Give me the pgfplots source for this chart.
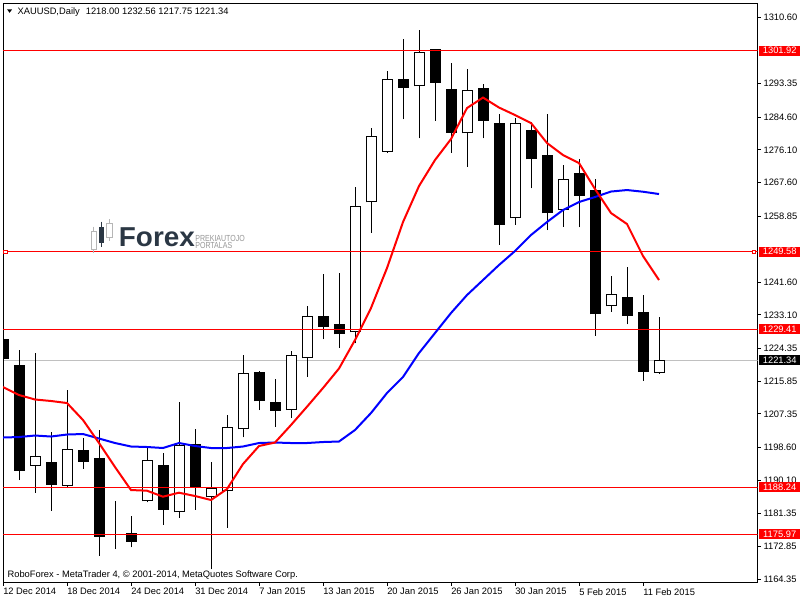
\documentclass[border=0pt]{standalone}
\usepackage{fontspec}
\setmainfont{Liberation Sans}
\usepackage{pgfplots}
\pgfplotsset{compat=1.18}
\usepackage{pgfplotstable}
\definecolor{mtred}{RGB}{255,0,0}
\definecolor{mtblue}{RGB}{0,0,255}
\definecolor{bidgray}{RGB}{192,192,192}
\definecolor{logodark}{RGB}{43,55,68}
\definecolor{logogray}{RGB}{150,150,150}
\newcommand\chartfont{\fontsize{7}{8.4}\selectfont}

% bearish (black) candles: index open high low close
\pgfplotstableread{
i o h l c
0 1226.58 1227.90 1220.90 1221.56
1 1219.89 1223.97 1190.13 1192.55
3 1194.55 1202.70 1182.06 1188.90
5 1197.68 1201.14 1193.07 1194.89
6 1195.59 1203.15 1170.42 1175.37
7 1175.95 1184.66 1172.16 1175.70
8 1176.07 1180.75 1172.60 1174.06
10 1193.77 1197.08 1178.49 1182.40
12 1199.42 1203.41 1182.32 1188.38
16 1218.17 1218.58 1208.35 1210.62
17 1210.36 1216.42 1204.01 1208.17
20 1232.64 1243.76 1226.76 1230.04
21 1230.48 1243.94 1224.57 1228.06
25 1294.27 1304.95 1284.04 1292.27
27 1302.08 1302.30 1283.67 1293.57
28 1291.67 1298.78 1275.34 1280.55
30 1291.93 1293.23 1279.09 1283.67
31 1282.82 1285.42 1251.39 1256.60
33 1280.99 1283.41 1266.07 1273.62
34 1274.48 1285.42 1255.22 1259.57
36 1269.80 1273.70 1255.92 1264.15
37 1265.37 1268.50 1227.70 1233.27
39 1237.69 1245.66 1230.66 1232.90
40 1233.61 1238.29 1215.98 1218.32
}\bear

% bullish (white) candles
\pgfplotstableread{
i o h l c
2 1193.85 1223.27 1186.82 1196.38
4 1188.64 1213.56 1188.38 1198.20
9 1184.58 1198.38 1184.30 1195.26
11 1181.72 1210.51 1180.31 1199.24
13 1185.62 1194.73 1166.88 1187.97
14 1187.19 1207.05 1177.71 1204.01
15 1203.33 1222.67 1201.24 1217.91
18 1208.35 1223.71 1206.35 1222.67
19 1221.81 1235.43 1217.02 1232.83
22 1228.58 1266.49 1225.72 1261.47
23 1262.43 1281.85 1254.51 1279.69
24 1275.66 1296.61 1275.40 1294.53
26 1292.63 1307.29 1279.09 1301.48
29 1280.39 1297.14 1271.70 1291.59
32 1258.26 1284.38 1256.60 1283.00
35 1260.42 1272.14 1256.08 1268.42
38 1235.35 1243.24 1233.95 1238.55
41 1218.00 1232.56 1217.75 1221.34
}\bull

% moving averages: red (fast), blue (slow)
\pgfplotstableread{
i r b
0 1214.34 1201.19
1 1212.26 1201.32
2 1211.09 1201.71
3 1210.70 1201.45
4 1210.17 1201.97
5 1205.75 1202.10
6 1199.76 1200.93
7 1193.51 1199.76
8 1187.52 1198.85
9 1187.34 1198.72
10 1185.78 1198.46
11 1186.82 1199.76
12 1185.96 1198.98
13 1184.92 1198.46
14 1187.78 1198.46
15 1194.29 1198.85
16 1198.98 1199.76
17 1199.89 1199.89
18 1204.45 1199.76
19 1209.21 1199.76
20 1214.08 1200.02
21 1219.16 1200.15
22 1226.58 1203.15
23 1234.91 1207.57
24 1245.32 1212.78
25 1257.30 1216.94
26 1266.67 1223.19
27 1273.44 1228.40
28 1278.91 1233.61
29 1286.98 1238.29
30 1289.71 1242.20
31 1287.11 1246.11
32 1285.16 1249.75
33 1283.08 1253.92
34 1277.87 1257.30
35 1274.74 1260.42
36 1272.66 1262.51
37 1265.89 1263.81
38 1259.64 1265.24
39 1256.78 1265.63
40 1248.45 1265.19
41 1242.20 1264.59
}\ma

\begin{document}
\begin{tikzpicture}
\useasboundingbox (0,0) rectangle (600pt,-450pt);
\begin{axis}[
  at={(2.25pt,-2.25pt)}, anchor=north west,
  scale only axis, width=565.875pt, height=434.625pt,
  xmin=0, xmax=47.156, ymin=1163.44, ymax=1314.33,
  axis line style={black, line width=0.75pt},
  xtick={0,4,...,40},
  xticklabels={12 Dec 2014,18 Dec 2014,24 Dec 2014,31 Dec 2014,7 Jan 2015,13 Jan 2015,20 Jan 2015,26 Jan 2015,30 Jan 2015,5 Feb 2015,11 Feb 2015},
  ytick={1164.35,1172.85,1181.35,1190.10,1198.60,1207.35,1215.85,1224.35,1233.10,1241.60,1258.85,1267.60,1276.10,1284.60,1293.35,1310.60},
  yticklabels={1164.35,1172.85,1181.35,1190.10,1198.60,1207.35,1215.85,1224.35,1233.10,1241.60,1258.85,1267.60,1276.10,1284.60,1293.35,1310.60},
  xtick pos=left, ytick pos=right, yticklabel pos=right,
  tick align=outside, major tick length=2.25pt,
  tick style={black, line width=0.75pt},
  ticklabel style={font=\chartfont, inner sep=0pt},
  xticklabel style={anchor=north west, yshift=-1.9pt},
  yticklabel style={anchor=west, xshift=2.1pt},
  candle/.style={draw=none, mark=none, error bars/.cd, y dir=plus, y explicit, error mark=none},
]
% bid line
\addplot[bidgray, line width=0.75pt] coordinates {(0,1221.34) (47.156,1221.34)};
% wicks
\addplot[candle, error bar style={draw=black, line width=0.75pt}]
  table[x=i, y=l, y error plus expr=\thisrow{h}-\thisrow{l}] {\bear};
\addplot[candle, error bar style={draw=black, line width=0.75pt}]
  table[x=i, y=l, y error plus expr=\thisrow{h}-\thisrow{l}] {\bull};
% bearish bodies
\addplot[candle, error bar style={draw=black, line width=8.25pt}]
  table[x=i, y=c, y error plus expr=\thisrow{o}-\thisrow{c}+0.15] {\bear};
% bullish bodies: outline then white fill
\addplot[candle, error bar style={draw=black, line width=8.25pt}]
  table[x=i, y=o, y error plus expr=\thisrow{c}-\thisrow{o}] {\bull};
\addplot[candle, error bar style={draw=white, line width=6.75pt}]
  table[x=i, y expr=\thisrow{o}+0.26, y error plus expr=\thisrow{c}-\thisrow{o}-0.52] {\bull};
% horizontal levels
\addplot[mtred, line width=0.75pt] coordinates {(0,1301.92) (47.156,1301.92)};
\addplot[mtred, line width=0.75pt] coordinates {(0,1249.58) (47.156,1249.58)};
\addplot[mtred, line width=0.75pt] coordinates {(0,1229.41) (47.156,1229.41)};
\addplot[mtred, line width=0.75pt] coordinates {(0,1188.24) (47.156,1188.24)};
\addplot[mtred, line width=0.75pt] coordinates {(0,1175.97) (47.156,1175.97)};
\addplot[mtred, only marks, mark=square*, mark size=1.3pt, mark options={fill=white, draw=mtred, line width=0.6pt}]
  coordinates {(0.15,1249.58) (46.94,1249.58)};
% moving averages
\addplot[mtblue, line width=1.5pt] table[x=i, y=b] {\ma};
\addplot[mtred, line width=1.5pt] table[x=i, y=r] {\ma};
\coordinate (b1) at (axis cs:47.156,1301.92);
\coordinate (b2) at (axis cs:47.156,1249.58);
\coordinate (b3) at (axis cs:47.156,1229.41);
\coordinate (b4) at (axis cs:47.156,1188.24);
\coordinate (b5) at (axis cs:47.156,1175.97);
\coordinate (b6) at (axis cs:47.156,1221.34);
\end{axis}
% price labels on the scale
\tikzset{pl/.style={anchor=west, text=white, font=\chartfont, inner sep=0pt, minimum width=30.75pt, minimum height=7.5pt}}
\node[pl, fill=mtred] at ([xshift=1.1pt]b1) {1301.92};
\node[pl, fill=mtred] at ([xshift=1.1pt]b2) {1249.58};
\node[pl, fill=mtred] at ([xshift=1.1pt]b3) {1229.41};
\node[pl, fill=mtred] at ([xshift=1.1pt]b4) {1188.24};
\node[pl, fill=mtred] at ([xshift=1.1pt]b5) {1175.97};
\node[pl, fill=black] at ([xshift=1.1pt]b6) {1221.34};
% header and footer text
\fill (5.4pt,-7.1pt) -- (9pt,-7.1pt) -- (7.2pt,-9.6pt) -- cycle;
\node[anchor=base west, inner sep=0pt, font=\chartfont] at (13pt,-10.5pt) {XAUUSD,Daily\hspace{4.5pt}1218.00 1232.56 1217.75 1221.34};
\node[anchor=base west, inner sep=0pt, font=\chartfont] at (5.5pt,-433pt) {RoboForex - MetaTrader 4, \textcopyright{} 2001-2014, MetaQuotes Software Corp.};
% watermark logo
\draw[logogray!70, line width=0.6pt] (70.4pt,-170pt) -- (70.4pt,-190pt);
\draw[logogray!70, fill=white, line width=0.6pt] (68.8pt,-173.8pt) rectangle (72pt,-187pt);
\draw[logodark, line width=0.6pt] (76.4pt,-166.3pt) -- (76.4pt,-185pt);
\fill[logodark] (74.5pt,-170pt) rectangle (78.2pt,-182.5pt);
\draw[logogray!70, line width=0.6pt] (82.1pt,-164.3pt) -- (82.1pt,-180.8pt);
\draw[logogray!70, fill=white, line width=0.6pt] (80pt,-167.3pt) rectangle (84.2pt,-177.8pt);
\node[anchor=base west, inner sep=0pt, text=logodark, font=\fontsize{20.5}{21}\selectfont\bfseries] at (89pt,-185.2pt) {\scalebox{1.02}[1]{Forex}};
\node[anchor=base west, inner sep=0pt, text=logogray, font=\fontsize{6.6}{6.6}\selectfont] at (146.3pt,-180.9pt) {\scalebox{0.8}[1]{PREKIAUTOJO}};
\node[anchor=base west, inner sep=0pt, text=logogray, font=\fontsize{6.6}{6.6}\selectfont] at (146.3pt,-186.6pt) {\scalebox{0.8}[1]{PORTALAS}};
\end{tikzpicture}
\end{document}
